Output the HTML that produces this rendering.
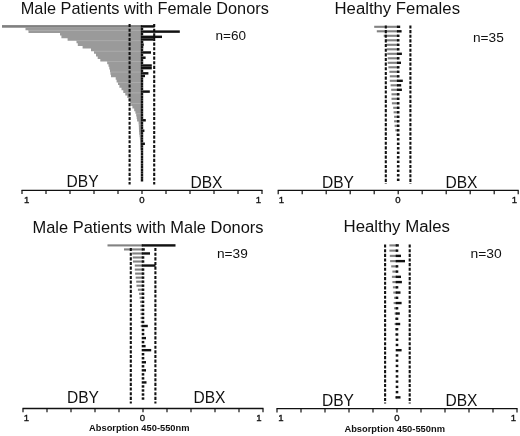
<!DOCTYPE html>
<html><head><meta charset="utf-8"><title>Figure</title>
<style>
html,body{margin:0;padding:0;background:#fff;}
svg{display:block;}
text{font-family:"Liberation Sans",sans-serif;fill:#111;}
.t{font-size:16.2px;}
.t2{font-size:15.8px;}
.n{font-size:13.2px;}
.d{font-size:16.4px;}
.a{font-size:9.6px;text-anchor:middle;stroke:#111;stroke-width:0.35px;}
.ab{font-size:8.8px;font-weight:bold;text-anchor:middle;}
</style></head><body>
<svg width="520" height="436" viewBox="0 0 520 436">
<rect width="520" height="436" fill="#fff"/>
<path d="M142 27.71 L25.5 27.71 L25.5 30.32 L28.5 30.32 L28.5 32.92 L60.0 32.92 L60.0 35.53 L61.4 35.53 L61.4 38.14 L67.6 38.14 L67.6 40.75 L76.5 40.75 L76.5 43.36 L77.8 43.36 L77.8 45.96 L82.6 45.96 L82.6 48.57 L91.0 48.57 L91.0 51.18 L94.0 51.18 L94.0 53.79 L96.0 53.79 L96.0 56.40 L97.7 56.40 L97.7 59.00 L100.3 59.00 L100.3 61.61 L107.2 61.61 L107.2 64.22 L108.5 64.22 L108.5 66.83 L109.3 66.83 L109.3 69.44 L110.0 69.44 L110.0 72.04 L110.4 72.04 L110.4 74.65 L111.0 74.65 L111.0 77.26 L115.7 77.26 L115.7 79.87 L116.6 79.87 L116.6 82.48 L118.0 82.48 L118.0 85.08 L119.4 85.08 L119.4 87.69 L121.5 87.69 L121.5 90.30 L123.3 90.30 L123.3 92.91 L125.3 92.91 L125.3 95.52 L127.3 95.52 L127.3 98.12 L128.8 98.12 L128.8 100.73 L130.2 100.73 L130.2 103.34 L131.2 103.34 L131.2 105.95 L132.4 105.95 L132.4 108.56 L134.2 108.56 L134.2 111.16 L135.4 111.16 L135.4 113.77 L136.2 113.77 L136.2 116.38 L136.7 116.38 L136.7 118.99 L137.1 118.99 L137.1 121.60 L138.6 121.60 L138.6 124.20 L138.8 124.20 L138.8 126.81 L138.9 126.81 L138.9 129.42 L139.0 129.42 L139.0 132.03 L139.2 132.03 L139.2 134.64 L139.6 134.64 L139.6 137.24 L139.9 137.24 L139.9 139.85 L140.1 139.85 L140.1 142.46 L140.2 142.46 L140.2 145.07 L140.3 145.07 L140.3 147.68 L140.4 147.68 L140.4 150.28 L142 150.28 Z" fill="#9a9a9a"/>
<rect x="2.0" y="25.10" width="140.0" height="2.61" fill="#808080"/>
<rect x="28.5" y="29.97" width="113.5" height="0.7" fill="#b2b2b2"/>
<rect x="76.5" y="40.40" width="65.5" height="0.7" fill="#b2b2b2"/>
<rect x="94.0" y="50.83" width="48.0" height="0.7" fill="#b2b2b2"/>
<rect x="107.2" y="61.26" width="34.8" height="0.7" fill="#b2b2b2"/>
<rect x="110.4" y="71.69" width="31.6" height="0.7" fill="#b2b2b2"/>
<rect x="118.0" y="82.13" width="24.0" height="0.7" fill="#b2b2b2"/>
<rect x="125.3" y="92.56" width="16.7" height="0.7" fill="#b2b2b2"/>
<rect x="131.2" y="102.99" width="10.8" height="0.7" fill="#b2b2b2"/>
<rect x="136.2" y="113.42" width="5.8" height="0.7" fill="#b2b2b2"/>
<rect x="138.8" y="123.85" width="3.2" height="0.7" fill="#b2b2b2"/>
<rect x="139.6" y="134.29" width="2.4" height="0.7" fill="#b2b2b2"/>
<rect x="140.3" y="144.72" width="1.7" height="0.7" fill="#b2b2b2"/>
<rect x="140.8" y="25.18" width="13.8" height="2.45" fill="#111"/>
<rect x="140.8" y="27.79" width="2.4" height="2.45" fill="#111"/>
<rect x="140.8" y="30.39" width="39.0" height="2.45" fill="#111"/>
<rect x="140.8" y="33.00" width="2.4" height="2.45" fill="#111"/>
<rect x="140.8" y="35.61" width="21.2" height="2.45" fill="#111"/>
<rect x="140.8" y="38.22" width="12.7" height="2.45" fill="#111"/>
<rect x="140.8" y="40.83" width="2.5" height="2.45" fill="#111"/>
<rect x="140.8" y="43.43" width="3.0" height="2.45" fill="#111"/>
<rect x="140.8" y="46.04" width="2.5" height="2.45" fill="#111"/>
<rect x="140.8" y="48.65" width="2.4" height="2.45" fill="#111"/>
<rect x="140.8" y="51.26" width="10.2" height="2.45" fill="#111"/>
<rect x="140.8" y="53.87" width="2.4" height="2.45" fill="#111"/>
<rect x="140.8" y="56.48" width="4.8" height="2.45" fill="#111"/>
<rect x="140.8" y="59.08" width="2.4" height="2.45" fill="#111"/>
<rect x="140.8" y="61.69" width="2.4" height="2.45" fill="#111"/>
<rect x="140.8" y="64.30" width="11.0" height="2.45" fill="#111"/>
<rect x="140.8" y="66.91" width="11.0" height="2.45" fill="#111"/>
<rect x="140.8" y="69.52" width="2.4" height="2.45" fill="#111"/>
<rect x="140.8" y="72.12" width="7.6" height="2.45" fill="#111"/>
<rect x="140.8" y="74.73" width="4.2" height="2.45" fill="#111"/>
<rect x="140.8" y="77.34" width="2.4" height="2.45" fill="#111"/>
<rect x="140.8" y="79.95" width="2.4" height="2.45" fill="#111"/>
<rect x="140.8" y="82.56" width="2.4" height="2.45" fill="#111"/>
<rect x="140.8" y="85.16" width="2.4" height="2.45" fill="#111"/>
<rect x="140.8" y="87.77" width="2.4" height="2.45" fill="#111"/>
<rect x="140.8" y="90.38" width="9.0" height="2.45" fill="#111"/>
<rect x="140.8" y="92.99" width="2.4" height="2.45" fill="#111"/>
<rect x="140.8" y="95.59" width="2.4" height="2.45" fill="#111"/>
<rect x="140.8" y="98.20" width="2.4" height="2.45" fill="#111"/>
<rect x="140.8" y="100.81" width="2.4" height="2.45" fill="#111"/>
<rect x="140.8" y="103.42" width="2.4" height="2.45" fill="#111"/>
<rect x="140.8" y="106.03" width="2.4" height="2.45" fill="#111"/>
<rect x="140.8" y="108.64" width="2.4" height="2.45" fill="#111"/>
<rect x="140.8" y="111.24" width="2.4" height="2.45" fill="#111"/>
<rect x="140.8" y="113.85" width="2.4" height="2.45" fill="#111"/>
<rect x="140.8" y="116.46" width="2.4" height="2.45" fill="#111"/>
<rect x="140.8" y="119.07" width="5.0" height="2.45" fill="#111"/>
<rect x="140.8" y="121.68" width="2.4" height="2.45" fill="#111"/>
<rect x="140.8" y="124.28" width="2.4" height="2.45" fill="#111"/>
<rect x="140.8" y="126.89" width="2.4" height="2.45" fill="#111"/>
<rect x="140.8" y="129.50" width="3.6" height="2.45" fill="#111"/>
<rect x="140.8" y="132.11" width="2.4" height="2.45" fill="#111"/>
<rect x="140.8" y="134.72" width="2.4" height="2.45" fill="#111"/>
<rect x="140.8" y="137.32" width="2.4" height="2.45" fill="#111"/>
<rect x="140.8" y="139.93" width="2.4" height="2.45" fill="#111"/>
<rect x="140.8" y="142.54" width="4.1" height="2.45" fill="#111"/>
<rect x="140.8" y="145.15" width="2.4" height="2.45" fill="#111"/>
<rect x="140.8" y="147.76" width="2.4" height="2.45" fill="#111"/>
<rect x="140.8" y="150.36" width="2.4" height="2.45" fill="#111"/>
<rect x="140.8" y="152.97" width="2.4" height="2.45" fill="#111"/>
<rect x="140.8" y="155.58" width="2.4" height="2.45" fill="#111"/>
<rect x="140.8" y="158.19" width="2.4" height="2.45" fill="#111"/>
<rect x="140.8" y="160.80" width="2.4" height="2.45" fill="#111"/>
<rect x="140.8" y="163.40" width="2.4" height="2.45" fill="#111"/>
<rect x="140.8" y="166.01" width="2.4" height="2.45" fill="#111"/>
<rect x="140.8" y="168.62" width="2.4" height="2.45" fill="#111"/>
<rect x="140.8" y="171.23" width="2.4" height="2.45" fill="#111"/>
<rect x="140.8" y="173.84" width="2.4" height="2.45" fill="#111"/>
<rect x="140.8" y="176.44" width="2.4" height="2.45" fill="#111"/>
<rect x="140.8" y="179.05" width="2.4" height="2.45" fill="#111"/>
<line x1="129.6" y1="24" x2="129.6" y2="184.5" stroke="#111" stroke-width="2.1" stroke-dasharray="3.1 1.55"/>
<line x1="154.2" y1="24" x2="154.2" y2="184.5" stroke="#111" stroke-width="2.1" stroke-dasharray="3.1 1.55"/>
<line x1="21.5" y1="190.3" x2="262.5" y2="190.3" stroke="#111" stroke-width="1.3"/>
<line x1="22.0" y1="190.3" x2="22.0" y2="194.10000000000002" stroke="#111" stroke-width="1.2"/>
<line x1="46.0" y1="190.3" x2="46.0" y2="194.10000000000002" stroke="#111" stroke-width="1.2"/>
<line x1="70.0" y1="190.3" x2="70.0" y2="194.10000000000002" stroke="#111" stroke-width="1.2"/>
<line x1="94.0" y1="190.3" x2="94.0" y2="194.10000000000002" stroke="#111" stroke-width="1.2"/>
<line x1="118.0" y1="190.3" x2="118.0" y2="194.10000000000002" stroke="#111" stroke-width="1.2"/>
<line x1="142.0" y1="190.3" x2="142.0" y2="194.10000000000002" stroke="#111" stroke-width="1.2"/>
<line x1="166.0" y1="190.3" x2="166.0" y2="194.10000000000002" stroke="#111" stroke-width="1.2"/>
<line x1="190.0" y1="190.3" x2="190.0" y2="194.10000000000002" stroke="#111" stroke-width="1.2"/>
<line x1="214.0" y1="190.3" x2="214.0" y2="194.10000000000002" stroke="#111" stroke-width="1.2"/>
<line x1="238.0" y1="190.3" x2="238.0" y2="194.10000000000002" stroke="#111" stroke-width="1.2"/>
<line x1="262.0" y1="190.3" x2="262.0" y2="194.10000000000002" stroke="#111" stroke-width="1.2"/>
<rect x="374.2" y="25.75" width="24.0" height="2.10" fill="#828282"/>
<rect x="376.8" y="30.25" width="21.4" height="2.10" fill="#828282"/>
<rect x="383.7" y="34.75" width="14.5" height="2.10" fill="#828282"/>
<rect x="385.5" y="39.25" width="12.7" height="2.10" fill="#828282"/>
<rect x="386.3" y="43.75" width="11.9" height="2.10" fill="#828282"/>
<rect x="386.7" y="48.25" width="11.5" height="2.10" fill="#828282"/>
<rect x="387.2" y="52.75" width="11.0" height="2.10" fill="#828282"/>
<rect x="387.7" y="57.25" width="10.5" height="2.10" fill="#828282"/>
<rect x="387.7" y="61.75" width="10.5" height="2.10" fill="#828282"/>
<rect x="388.4" y="66.25" width="9.8" height="2.10" fill="#828282"/>
<rect x="389.4" y="70.75" width="8.8" height="2.10" fill="#828282"/>
<rect x="389.8" y="75.25" width="8.4" height="2.10" fill="#828282"/>
<rect x="389.8" y="79.75" width="8.4" height="2.10" fill="#828282"/>
<rect x="390.6" y="84.25" width="7.6" height="2.10" fill="#828282"/>
<rect x="391.2" y="88.75" width="7.0" height="2.10" fill="#828282"/>
<rect x="391.5" y="93.25" width="6.7" height="2.10" fill="#828282"/>
<rect x="391.5" y="97.75" width="6.7" height="2.10" fill="#828282"/>
<rect x="391.9" y="102.25" width="6.3" height="2.10" fill="#828282"/>
<rect x="393.2" y="106.75" width="5.0" height="2.10" fill="#828282"/>
<rect x="393.6" y="111.25" width="4.6" height="2.10" fill="#828282"/>
<rect x="394.1" y="115.75" width="4.1" height="2.10" fill="#828282"/>
<rect x="394.1" y="120.25" width="4.1" height="2.10" fill="#828282"/>
<rect x="394.6" y="124.75" width="3.6" height="2.10" fill="#828282"/>
<rect x="395.3" y="129.25" width="2.9" height="2.10" fill="#828282"/>
<rect x="396.4" y="133.75" width="1.8" height="2.10" fill="#828282"/>
<rect x="396.9" y="25.60" width="3.3" height="2.40" fill="#111"/>
<rect x="396.9" y="30.10" width="4.7" height="2.40" fill="#111"/>
<rect x="396.9" y="34.60" width="2.6" height="2.40" fill="#111"/>
<rect x="396.9" y="39.10" width="2.6" height="2.40" fill="#111"/>
<rect x="396.9" y="43.60" width="2.6" height="2.40" fill="#111"/>
<rect x="396.9" y="48.10" width="2.6" height="2.40" fill="#111"/>
<rect x="396.9" y="52.60" width="5.0" height="2.40" fill="#111"/>
<rect x="396.9" y="57.10" width="2.6" height="2.40" fill="#111"/>
<rect x="396.9" y="61.60" width="4.1" height="2.40" fill="#111"/>
<rect x="396.9" y="66.10" width="2.6" height="2.40" fill="#111"/>
<rect x="396.9" y="70.60" width="2.6" height="2.40" fill="#111"/>
<rect x="396.9" y="75.10" width="2.6" height="2.40" fill="#111"/>
<rect x="396.9" y="79.60" width="5.9" height="2.40" fill="#111"/>
<rect x="396.9" y="84.10" width="4.3" height="2.40" fill="#111"/>
<rect x="396.9" y="88.60" width="5.0" height="2.40" fill="#111"/>
<rect x="396.9" y="93.10" width="2.6" height="2.40" fill="#111"/>
<rect x="396.9" y="97.60" width="2.6" height="2.40" fill="#111"/>
<rect x="396.9" y="102.10" width="2.6" height="2.40" fill="#111"/>
<rect x="396.9" y="106.60" width="2.6" height="2.40" fill="#111"/>
<rect x="396.9" y="111.10" width="2.6" height="2.40" fill="#111"/>
<rect x="396.9" y="115.60" width="2.6" height="2.40" fill="#111"/>
<rect x="396.9" y="120.10" width="2.6" height="2.40" fill="#111"/>
<rect x="396.9" y="124.60" width="2.6" height="2.40" fill="#111"/>
<rect x="396.9" y="129.10" width="2.6" height="2.40" fill="#111"/>
<rect x="396.9" y="133.60" width="2.6" height="2.40" fill="#111"/>
<rect x="396.9" y="138.10" width="2.6" height="2.40" fill="#111"/>
<rect x="396.9" y="142.60" width="2.6" height="2.40" fill="#111"/>
<rect x="396.9" y="147.10" width="2.6" height="2.40" fill="#111"/>
<rect x="396.9" y="151.60" width="2.6" height="2.40" fill="#111"/>
<rect x="396.9" y="156.10" width="2.6" height="2.40" fill="#111"/>
<rect x="396.9" y="160.60" width="2.6" height="2.40" fill="#111"/>
<rect x="396.9" y="165.10" width="2.6" height="2.40" fill="#111"/>
<rect x="396.9" y="169.60" width="2.6" height="2.40" fill="#111"/>
<rect x="396.9" y="174.10" width="2.6" height="2.40" fill="#111"/>
<rect x="396.9" y="178.60" width="2.6" height="2.40" fill="#111"/>
<line x1="385.8" y1="25.4" x2="385.8" y2="184" stroke="#111" stroke-width="2.1" stroke-dasharray="3.1 1.55"/>
<line x1="410.4" y1="25.4" x2="410.4" y2="184" stroke="#111" stroke-width="2.1" stroke-dasharray="3.1 1.55"/>
<line x1="277.7" y1="190.4" x2="518.7" y2="190.4" stroke="#111" stroke-width="1.3"/>
<line x1="278.2" y1="190.4" x2="278.2" y2="194.20000000000002" stroke="#111" stroke-width="1.2"/>
<line x1="302.2" y1="190.4" x2="302.2" y2="194.20000000000002" stroke="#111" stroke-width="1.2"/>
<line x1="326.2" y1="190.4" x2="326.2" y2="194.20000000000002" stroke="#111" stroke-width="1.2"/>
<line x1="350.2" y1="190.4" x2="350.2" y2="194.20000000000002" stroke="#111" stroke-width="1.2"/>
<line x1="374.2" y1="190.4" x2="374.2" y2="194.20000000000002" stroke="#111" stroke-width="1.2"/>
<line x1="398.2" y1="190.4" x2="398.2" y2="194.20000000000002" stroke="#111" stroke-width="1.2"/>
<line x1="422.2" y1="190.4" x2="422.2" y2="194.20000000000002" stroke="#111" stroke-width="1.2"/>
<line x1="446.2" y1="190.4" x2="446.2" y2="194.20000000000002" stroke="#111" stroke-width="1.2"/>
<line x1="470.2" y1="190.4" x2="470.2" y2="194.20000000000002" stroke="#111" stroke-width="1.2"/>
<line x1="494.2" y1="190.4" x2="494.2" y2="194.20000000000002" stroke="#111" stroke-width="1.2"/>
<line x1="518.2" y1="190.4" x2="518.2" y2="194.20000000000002" stroke="#111" stroke-width="1.2"/>
<rect x="107.5" y="244.35" width="35.5" height="2.10" fill="#828282"/>
<rect x="124.0" y="248.38" width="19.0" height="2.10" fill="#828282"/>
<rect x="132.2" y="252.41" width="10.8" height="2.10" fill="#828282"/>
<rect x="132.7" y="256.44" width="10.3" height="2.10" fill="#828282"/>
<rect x="133.0" y="260.47" width="10.0" height="2.10" fill="#828282"/>
<rect x="134.8" y="264.50" width="8.2" height="2.10" fill="#828282"/>
<rect x="134.8" y="268.53" width="8.2" height="2.10" fill="#828282"/>
<rect x="135.1" y="272.56" width="7.9" height="2.10" fill="#828282"/>
<rect x="135.7" y="276.59" width="7.3" height="2.10" fill="#828282"/>
<rect x="136.2" y="280.62" width="6.8" height="2.10" fill="#828282"/>
<rect x="136.5" y="284.65" width="6.5" height="2.10" fill="#828282"/>
<rect x="137.9" y="288.68" width="5.1" height="2.10" fill="#828282"/>
<rect x="139.0" y="292.71" width="4.0" height="2.10" fill="#828282"/>
<rect x="139.6" y="296.74" width="3.4" height="2.10" fill="#828282"/>
<rect x="140.0" y="300.77" width="3.0" height="2.10" fill="#828282"/>
<rect x="140.3" y="304.80" width="2.7" height="2.10" fill="#828282"/>
<rect x="140.3" y="308.83" width="2.7" height="2.10" fill="#828282"/>
<rect x="140.5" y="312.86" width="2.5" height="2.10" fill="#828282"/>
<rect x="140.5" y="316.89" width="2.5" height="2.10" fill="#828282"/>
<rect x="140.7" y="320.92" width="2.3" height="2.10" fill="#828282"/>
<rect x="140.7" y="324.95" width="2.3" height="2.10" fill="#828282"/>
<rect x="141.7" y="244.20" width="33.8" height="2.40" fill="#111"/>
<rect x="141.7" y="248.23" width="3.1" height="2.40" fill="#111"/>
<rect x="141.7" y="252.26" width="8.3" height="2.40" fill="#111"/>
<rect x="141.7" y="256.29" width="2.6" height="2.40" fill="#111"/>
<rect x="141.7" y="260.32" width="2.6" height="2.40" fill="#111"/>
<rect x="141.7" y="264.35" width="13.8" height="2.40" fill="#111"/>
<rect x="141.7" y="268.38" width="2.6" height="2.40" fill="#111"/>
<rect x="141.7" y="272.41" width="2.6" height="2.40" fill="#111"/>
<rect x="141.7" y="276.44" width="2.6" height="2.40" fill="#111"/>
<rect x="141.7" y="280.47" width="2.6" height="2.40" fill="#111"/>
<rect x="141.7" y="284.50" width="2.6" height="2.40" fill="#111"/>
<rect x="141.7" y="288.53" width="2.6" height="2.40" fill="#111"/>
<rect x="141.7" y="292.56" width="2.6" height="2.40" fill="#111"/>
<rect x="141.7" y="296.59" width="2.6" height="2.40" fill="#111"/>
<rect x="141.7" y="300.62" width="2.6" height="2.40" fill="#111"/>
<rect x="141.7" y="304.65" width="2.6" height="2.40" fill="#111"/>
<rect x="141.7" y="308.68" width="2.6" height="2.40" fill="#111"/>
<rect x="141.7" y="312.71" width="2.6" height="2.40" fill="#111"/>
<rect x="141.7" y="316.74" width="2.6" height="2.40" fill="#111"/>
<rect x="141.7" y="320.77" width="2.6" height="2.40" fill="#111"/>
<rect x="141.7" y="324.80" width="6.1" height="2.40" fill="#111"/>
<rect x="141.7" y="328.83" width="2.6" height="2.40" fill="#111"/>
<rect x="141.7" y="332.86" width="2.6" height="2.40" fill="#111"/>
<rect x="141.7" y="336.89" width="4.3" height="2.40" fill="#111"/>
<rect x="141.7" y="340.92" width="2.6" height="2.40" fill="#111"/>
<rect x="141.7" y="344.95" width="3.9" height="2.40" fill="#111"/>
<rect x="141.7" y="348.98" width="9.5" height="2.40" fill="#111"/>
<rect x="141.7" y="353.01" width="2.6" height="2.40" fill="#111"/>
<rect x="141.7" y="357.04" width="2.6" height="2.40" fill="#111"/>
<rect x="141.7" y="361.07" width="4.3" height="2.40" fill="#111"/>
<rect x="141.7" y="365.10" width="2.6" height="2.40" fill="#111"/>
<rect x="141.7" y="369.13" width="4.3" height="2.40" fill="#111"/>
<rect x="141.7" y="373.16" width="2.6" height="2.40" fill="#111"/>
<rect x="141.7" y="377.19" width="2.6" height="2.40" fill="#111"/>
<rect x="141.7" y="381.22" width="4.8" height="2.40" fill="#111"/>
<rect x="141.7" y="385.25" width="2.6" height="2.40" fill="#111"/>
<rect x="141.7" y="389.28" width="2.6" height="2.40" fill="#111"/>
<rect x="141.7" y="393.31" width="2.6" height="2.40" fill="#111"/>
<rect x="141.7" y="397.34" width="2.6" height="2.40" fill="#111"/>
<line x1="130.8" y1="248" x2="130.8" y2="403.4" stroke="#111" stroke-width="2.1" stroke-dasharray="3.1 1.55"/>
<line x1="155.4" y1="248" x2="155.4" y2="403.4" stroke="#111" stroke-width="2.1" stroke-dasharray="3.1 1.55"/>
<line x1="22.5" y1="408.5" x2="263.5" y2="408.5" stroke="#111" stroke-width="1.3"/>
<line x1="23.0" y1="408.5" x2="23.0" y2="412.3" stroke="#111" stroke-width="1.2"/>
<line x1="47.0" y1="408.5" x2="47.0" y2="412.3" stroke="#111" stroke-width="1.2"/>
<line x1="71.0" y1="408.5" x2="71.0" y2="412.3" stroke="#111" stroke-width="1.2"/>
<line x1="95.0" y1="408.5" x2="95.0" y2="412.3" stroke="#111" stroke-width="1.2"/>
<line x1="119.0" y1="408.5" x2="119.0" y2="412.3" stroke="#111" stroke-width="1.2"/>
<line x1="143.0" y1="408.5" x2="143.0" y2="412.3" stroke="#111" stroke-width="1.2"/>
<line x1="167.0" y1="408.5" x2="167.0" y2="412.3" stroke="#111" stroke-width="1.2"/>
<line x1="191.0" y1="408.5" x2="191.0" y2="412.3" stroke="#111" stroke-width="1.2"/>
<line x1="215.0" y1="408.5" x2="215.0" y2="412.3" stroke="#111" stroke-width="1.2"/>
<line x1="239.0" y1="408.5" x2="239.0" y2="412.3" stroke="#111" stroke-width="1.2"/>
<line x1="263.0" y1="408.5" x2="263.0" y2="412.3" stroke="#111" stroke-width="1.2"/>
<rect x="389.4" y="244.35" width="7.6" height="2.10" fill="#828282"/>
<rect x="389.4" y="249.59" width="7.6" height="2.10" fill="#828282"/>
<rect x="389.8" y="254.83" width="7.2" height="2.10" fill="#828282"/>
<rect x="390.1" y="260.07" width="6.9" height="2.10" fill="#828282"/>
<rect x="391.2" y="265.31" width="5.8" height="2.10" fill="#828282"/>
<rect x="392.4" y="270.55" width="4.6" height="2.10" fill="#828282"/>
<rect x="391.9" y="275.79" width="5.1" height="2.10" fill="#828282"/>
<rect x="392.4" y="281.03" width="4.6" height="2.10" fill="#828282"/>
<rect x="392.9" y="286.27" width="4.1" height="2.10" fill="#828282"/>
<rect x="393.3" y="291.51" width="3.7" height="2.10" fill="#828282"/>
<rect x="394.1" y="296.75" width="2.9" height="2.10" fill="#828282"/>
<rect x="393.6" y="301.99" width="3.4" height="2.10" fill="#828282"/>
<rect x="394.1" y="307.23" width="2.9" height="2.10" fill="#828282"/>
<rect x="394.6" y="312.47" width="2.4" height="2.10" fill="#828282"/>
<rect x="395.0" y="317.71" width="2.0" height="2.10" fill="#828282"/>
<rect x="394.6" y="322.95" width="2.4" height="2.10" fill="#828282"/>
<rect x="395.0" y="328.19" width="2.0" height="2.10" fill="#828282"/>
<rect x="395.3" y="333.43" width="1.7" height="2.10" fill="#828282"/>
<rect x="395.3" y="396.31" width="1.7" height="2.10" fill="#828282"/>
<rect x="395.7" y="244.20" width="3.1" height="2.40" fill="#111"/>
<rect x="395.7" y="249.44" width="2.6" height="2.40" fill="#111"/>
<rect x="395.7" y="254.68" width="5.3" height="2.40" fill="#111"/>
<rect x="395.7" y="259.92" width="9.3" height="2.40" fill="#111"/>
<rect x="395.7" y="265.16" width="2.6" height="2.40" fill="#111"/>
<rect x="395.7" y="270.40" width="2.6" height="2.40" fill="#111"/>
<rect x="395.7" y="275.64" width="5.3" height="2.40" fill="#111"/>
<rect x="395.7" y="280.88" width="6.2" height="2.40" fill="#111"/>
<rect x="395.7" y="286.12" width="2.6" height="2.40" fill="#111"/>
<rect x="395.7" y="291.36" width="4.8" height="2.40" fill="#111"/>
<rect x="395.7" y="296.60" width="2.6" height="2.40" fill="#111"/>
<rect x="395.7" y="301.84" width="5.9" height="2.40" fill="#111"/>
<rect x="395.7" y="307.08" width="2.6" height="2.40" fill="#111"/>
<rect x="395.7" y="312.32" width="4.1" height="2.40" fill="#111"/>
<rect x="395.7" y="317.56" width="2.6" height="2.40" fill="#111"/>
<rect x="395.7" y="322.80" width="4.5" height="2.40" fill="#111"/>
<rect x="395.7" y="328.04" width="2.6" height="2.40" fill="#111"/>
<rect x="395.7" y="333.28" width="2.6" height="2.40" fill="#111"/>
<rect x="395.7" y="338.52" width="2.6" height="2.40" fill="#111"/>
<rect x="395.7" y="343.76" width="2.6" height="2.40" fill="#111"/>
<rect x="395.7" y="349.00" width="5.9" height="2.40" fill="#111"/>
<rect x="395.7" y="354.24" width="2.6" height="2.40" fill="#111"/>
<rect x="395.7" y="359.48" width="2.6" height="2.40" fill="#111"/>
<rect x="395.7" y="364.72" width="2.6" height="2.40" fill="#111"/>
<rect x="395.7" y="369.96" width="2.6" height="2.40" fill="#111"/>
<rect x="395.7" y="375.20" width="2.6" height="2.40" fill="#111"/>
<rect x="395.7" y="380.44" width="2.6" height="2.40" fill="#111"/>
<rect x="395.7" y="385.68" width="2.6" height="2.40" fill="#111"/>
<rect x="395.7" y="390.92" width="2.6" height="2.40" fill="#111"/>
<rect x="395.7" y="396.16" width="4.8" height="2.40" fill="#111"/>
<line x1="385.1" y1="244.5" x2="385.1" y2="403.4" stroke="#111" stroke-width="2.1" stroke-dasharray="3.1 1.55"/>
<line x1="409.7" y1="244.5" x2="409.7" y2="403.4" stroke="#111" stroke-width="2.1" stroke-dasharray="3.1 1.55"/>
<line x1="276.5" y1="408.6" x2="517.5" y2="408.6" stroke="#111" stroke-width="1.3"/>
<line x1="277.0" y1="408.6" x2="277.0" y2="412.40000000000003" stroke="#111" stroke-width="1.2"/>
<line x1="301.0" y1="408.6" x2="301.0" y2="412.40000000000003" stroke="#111" stroke-width="1.2"/>
<line x1="325.0" y1="408.6" x2="325.0" y2="412.40000000000003" stroke="#111" stroke-width="1.2"/>
<line x1="349.0" y1="408.6" x2="349.0" y2="412.40000000000003" stroke="#111" stroke-width="1.2"/>
<line x1="373.0" y1="408.6" x2="373.0" y2="412.40000000000003" stroke="#111" stroke-width="1.2"/>
<line x1="397.0" y1="408.6" x2="397.0" y2="412.40000000000003" stroke="#111" stroke-width="1.2"/>
<line x1="421.0" y1="408.6" x2="421.0" y2="412.40000000000003" stroke="#111" stroke-width="1.2"/>
<line x1="445.0" y1="408.6" x2="445.0" y2="412.40000000000003" stroke="#111" stroke-width="1.2"/>
<line x1="469.0" y1="408.6" x2="469.0" y2="412.40000000000003" stroke="#111" stroke-width="1.2"/>
<line x1="493.0" y1="408.6" x2="493.0" y2="412.40000000000003" stroke="#111" stroke-width="1.2"/>
<line x1="517.0" y1="408.6" x2="517.0" y2="412.40000000000003" stroke="#111" stroke-width="1.2"/>

<text x="20.8" y="14.2" class="t" textLength="248" lengthAdjust="spacingAndGlyphs">Male Patients with Female Donors</text>
<text x="334.5" y="14" class="t2" textLength="125.5" lengthAdjust="spacingAndGlyphs">Healthy Females</text>
<text x="32.5" y="232.8" class="t" textLength="231" lengthAdjust="spacingAndGlyphs">Male Patients with Male Donors</text>
<text x="343.5" y="232.3" class="t2" textLength="106.5" lengthAdjust="spacingAndGlyphs">Healthy Males</text>
<text x="215.5" y="40.2" class="n" textLength="30.5" lengthAdjust="spacingAndGlyphs">n=60</text>
<text x="473" y="41.6" class="n" textLength="30.8" lengthAdjust="spacingAndGlyphs">n=35</text>
<text x="217" y="257.6" class="n" textLength="30.8" lengthAdjust="spacingAndGlyphs">n=39</text>
<text x="470.5" y="257.6" class="n" textLength="31.2" lengthAdjust="spacingAndGlyphs">n=30</text>
<text x="66.6" y="187.2" class="d" textLength="32" lengthAdjust="spacingAndGlyphs">DBY</text>
<text x="190.4" y="187.6" class="d" textLength="32" lengthAdjust="spacingAndGlyphs">DBX</text>
<text x="322" y="187.7" class="d" textLength="32" lengthAdjust="spacingAndGlyphs">DBY</text>
<text x="445.4" y="188" class="d" textLength="32" lengthAdjust="spacingAndGlyphs">DBX</text>
<text x="67" y="403.4" class="d" textLength="32" lengthAdjust="spacingAndGlyphs">DBY</text>
<text x="193.4" y="403.4" class="d" textLength="32" lengthAdjust="spacingAndGlyphs">DBX</text>
<text x="322" y="405.5" class="d" textLength="32" lengthAdjust="spacingAndGlyphs">DBY</text>
<text x="445.4" y="405.5" class="d" textLength="32" lengthAdjust="spacingAndGlyphs">DBX</text>
<text x="26.6" y="203" class="a">1</text>
<text x="142" y="202.8" class="a">0</text>
<text x="258.5" y="203" class="a">1</text>
<text x="281.5" y="203" class="a">1</text>
<text x="397.8" y="203" class="a">0</text>
<text x="514.5" y="203" class="a">1</text>
<text x="26.5" y="420.9" class="a">1</text>
<text x="142.5" y="420.9" class="a">0</text>
<text x="259" y="420.9" class="a">1</text>
<text x="281" y="420.9" class="a">1</text>
<text x="397" y="420.9" class="a">0</text>
<text x="513.5" y="420.9" class="a">1</text>
<text x="139.3" y="431.2" class="ab" textLength="100.5" lengthAdjust="spacingAndGlyphs">Absorption 450-550nm</text>
<text x="394.7" y="431.5" class="ab" textLength="100.5" lengthAdjust="spacingAndGlyphs">Absorption 450-550nm</text>

</svg>
</body></html>
